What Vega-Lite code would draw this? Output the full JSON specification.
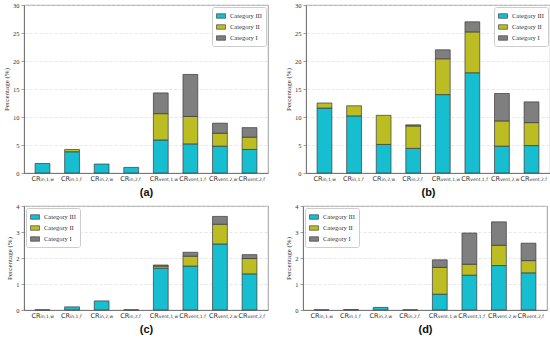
{
  "$schema": "https://vega.github.io/schema/vega-lite/v6.json",
  "padding": {"left": 2, "top": 1, "right": 0, "bottom": 0},
  "background": "white",
  "datasets": {
    "bars": [
      {"p": "a", "cfg": "in,1,w", "cat": "Category III", "v": 1.7},
      {"p": "a", "cfg": "in,1,f", "cat": "Category III", "v": 3.8},
      {"p": "a", "cfg": "in,1,f", "cat": "Category II", "v": 0.4},
      {"p": "a", "cfg": "in,2,w", "cat": "Category III", "v": 1.6},
      {"p": "a", "cfg": "in,2,f", "cat": "Category III", "v": 1.0},
      {"p": "a", "cfg": "vent,1,w", "cat": "Category III", "v": 5.9},
      {"p": "a", "cfg": "vent,1,w", "cat": "Category II", "v": 4.7},
      {"p": "a", "cfg": "vent,1,w", "cat": "Category I", "v": 3.7},
      {"p": "a", "cfg": "vent,1,f", "cat": "Category III", "v": 5.2},
      {"p": "a", "cfg": "vent,1,f", "cat": "Category II", "v": 4.9},
      {"p": "a", "cfg": "vent,1,f", "cat": "Category I", "v": 7.5},
      {"p": "a", "cfg": "vent,2,w", "cat": "Category III", "v": 4.8},
      {"p": "a", "cfg": "vent,2,w", "cat": "Category II", "v": 2.3},
      {"p": "a", "cfg": "vent,2,w", "cat": "Category I", "v": 1.8},
      {"p": "a", "cfg": "vent,2,f", "cat": "Category III", "v": 4.2},
      {"p": "a", "cfg": "vent,2,f", "cat": "Category II", "v": 2.2},
      {"p": "a", "cfg": "vent,2,f", "cat": "Category I", "v": 1.7},

      {"p": "b", "cfg": "in,1,w", "cat": "Category III", "v": 11.6},
      {"p": "b", "cfg": "in,1,w", "cat": "Category II", "v": 0.9},
      {"p": "b", "cfg": "in,1,f", "cat": "Category III", "v": 10.2},
      {"p": "b", "cfg": "in,1,f", "cat": "Category II", "v": 1.8},
      {"p": "b", "cfg": "in,2,w", "cat": "Category III", "v": 5.1},
      {"p": "b", "cfg": "in,2,w", "cat": "Category II", "v": 5.2},
      {"p": "b", "cfg": "in,2,f", "cat": "Category III", "v": 4.4},
      {"p": "b", "cfg": "in,2,f", "cat": "Category II", "v": 4.0},
      {"p": "b", "cfg": "in,2,f", "cat": "Category I", "v": 0.2},
      {"p": "b", "cfg": "vent,1,w", "cat": "Category III", "v": 14.0},
      {"p": "b", "cfg": "vent,1,w", "cat": "Category II", "v": 6.4},
      {"p": "b", "cfg": "vent,1,w", "cat": "Category I", "v": 1.6},
      {"p": "b", "cfg": "vent,1,f", "cat": "Category III", "v": 17.9},
      {"p": "b", "cfg": "vent,1,f", "cat": "Category II", "v": 7.3},
      {"p": "b", "cfg": "vent,1,f", "cat": "Category I", "v": 1.8},
      {"p": "b", "cfg": "vent,2,w", "cat": "Category III", "v": 4.8},
      {"p": "b", "cfg": "vent,2,w", "cat": "Category II", "v": 4.5},
      {"p": "b", "cfg": "vent,2,w", "cat": "Category I", "v": 4.9},
      {"p": "b", "cfg": "vent,2,f", "cat": "Category III", "v": 4.9},
      {"p": "b", "cfg": "vent,2,f", "cat": "Category II", "v": 4.1},
      {"p": "b", "cfg": "vent,2,f", "cat": "Category I", "v": 3.7},

      {"p": "c", "cfg": "in,1,w", "cat": "Category III", "v": 0.01},
      {"p": "c", "cfg": "in,1,f", "cat": "Category III", "v": 0.12},
      {"p": "c", "cfg": "in,2,w", "cat": "Category III", "v": 0.35},
      {"p": "c", "cfg": "in,2,f", "cat": "Category III", "v": 0.01},
      {"p": "c", "cfg": "vent,1,w", "cat": "Category III", "v": 1.61},
      {"p": "c", "cfg": "vent,1,w", "cat": "Category II", "v": 0.08},
      {"p": "c", "cfg": "vent,1,w", "cat": "Category I", "v": 0.04},
      {"p": "c", "cfg": "vent,1,f", "cat": "Category III", "v": 1.69},
      {"p": "c", "cfg": "vent,1,f", "cat": "Category II", "v": 0.38},
      {"p": "c", "cfg": "vent,1,f", "cat": "Category I", "v": 0.15},
      {"p": "c", "cfg": "vent,2,w", "cat": "Category III", "v": 2.54},
      {"p": "c", "cfg": "vent,2,w", "cat": "Category II", "v": 0.76},
      {"p": "c", "cfg": "vent,2,w", "cat": "Category I", "v": 0.3},
      {"p": "c", "cfg": "vent,2,f", "cat": "Category III", "v": 1.39},
      {"p": "c", "cfg": "vent,2,f", "cat": "Category II", "v": 0.59},
      {"p": "c", "cfg": "vent,2,f", "cat": "Category I", "v": 0.15},

      {"p": "d", "cfg": "in,1,w", "cat": "Category III", "v": 0.01},
      {"p": "d", "cfg": "in,1,f", "cat": "Category III", "v": 0.02},
      {"p": "d", "cfg": "in,2,w", "cat": "Category III", "v": 0.1},
      {"p": "d", "cfg": "in,2,f", "cat": "Category III", "v": 0.01},
      {"p": "d", "cfg": "vent,1,w", "cat": "Category III", "v": 0.61},
      {"p": "d", "cfg": "vent,1,w", "cat": "Category II", "v": 1.03},
      {"p": "d", "cfg": "vent,1,w", "cat": "Category I", "v": 0.29},
      {"p": "d", "cfg": "vent,1,f", "cat": "Category III", "v": 1.34},
      {"p": "d", "cfg": "vent,1,f", "cat": "Category II", "v": 0.42},
      {"p": "d", "cfg": "vent,1,f", "cat": "Category I", "v": 1.2},
      {"p": "d", "cfg": "vent,2,w", "cat": "Category III", "v": 1.71},
      {"p": "d", "cfg": "vent,2,w", "cat": "Category II", "v": 0.78},
      {"p": "d", "cfg": "vent,2,w", "cat": "Category I", "v": 0.9},
      {"p": "d", "cfg": "vent,2,f", "cat": "Category III", "v": 1.43},
      {"p": "d", "cfg": "vent,2,f", "cat": "Category II", "v": 0.47},
      {"p": "d", "cfg": "vent,2,f", "cat": "Category I", "v": 0.67}
    ],
    "labels": [
      {"cfg": "in,1,w"}, {"cfg": "in,1,f"}, {"cfg": "in,2,w"}, {"cfg": "in,2,f"},
      {"cfg": "vent,1,w"}, {"cfg": "vent,1,f"}, {"cfg": "vent,2,w"}, {"cfg": "vent,2,f"}
    ]
  },
  "vconcat": [
    {
      "hconcat": [
        {
          "width": 244, "height": 168,
          "layer": [
            {
              "data": {"name": "bars"},
              "transform": [{"filter": "datum.p == 'a'"}],
              "mark": {"type": "bar", "stroke": "#3a3a3a", "strokeWidth": 0.7},
              "encoding": {
                "x": {"field": "cfg", "type": "nominal", "sort": ["in,1,w","in,1,f","in,2,w","in,2,f","vent,1,w","vent,1,f","vent,2,w","vent,2,f"],
                      "scale": {"domain": ["in,1,w","in,1,f","in,2,w","in,2,f","vent,1,w","vent,1,f","vent,2,w","vent,2,f"], "paddingInner": 0.5, "paddingOuter": 0.375},
                      "axis": {"labels": false, "title": "(a)"}},
                "y": {"field": "v", "type": "quantitative", "stack": "zero", "scale": {"domain": [0, 30]},
                      "axis": {"values": [0,5,10,15,20,25,30], "labelOverlap": false, "title": "Percentage (%)"}},
                "color": {"field": "cat", "type": "nominal", "sort": ["Category III","Category II","Category I"],
                          "scale": {"domain": ["Category III","Category II","Category I"], "range": ["#17becf","#bcbd22","#7f7f7f"]},
                          "legend": {"orient": "top-right", "offset": 2, "title": null}}
              }
            },
            {
              "data": {"name": "labels"},
              "mark": {"type": "text", "text": "CR", "align": "right", "baseline": "middle", "dx": -2, "dy": 5.5, "font": "DejaVu Sans", "fontSize": 6.5, "color": "#333"},
              "encoding": {"x": {"field": "cfg", "type": "nominal", "axis": {"labels": false, "title": "(a)"}},
                           "y": {"datum": 0, "type": "quantitative", "axis": {"values": [0,5,10,15,20,25,30], "labelOverlap": false, "title": "Percentage (%)"}}}
            },
            {
              "data": {"name": "labels"},
              "mark": {"type": "text", "align": "left", "baseline": "middle", "dx": -2, "dy": 7, "font": "DejaVu Sans", "fontSize": 4.5, "color": "#333"},
              "encoding": {"x": {"field": "cfg", "type": "nominal", "axis": {"labels": false, "title": "(a)"}},
                           "y": {"datum": 0, "type": "quantitative", "axis": {"values": [0,5,10,15,20,25,30], "labelOverlap": false, "title": "Percentage (%)"}},
                           "text": {"field": "cfg"}}
            }
          ]
        },
        {
          "width": 244, "height": 168,
          "layer": [
            {
              "data": {"name": "bars"},
              "transform": [{"filter": "datum.p == 'b'"}],
              "mark": {"type": "bar", "stroke": "#3a3a3a", "strokeWidth": 0.7},
              "encoding": {
                "x": {"field": "cfg", "type": "nominal", "sort": ["in,1,w","in,1,f","in,2,w","in,2,f","vent,1,w","vent,1,f","vent,2,w","vent,2,f"],
                      "scale": {"domain": ["in,1,w","in,1,f","in,2,w","in,2,f","vent,1,w","vent,1,f","vent,2,w","vent,2,f"], "paddingInner": 0.5, "paddingOuter": 0.375},
                      "axis": {"labels": false, "title": "(b)"}},
                "y": {"field": "v", "type": "quantitative", "stack": "zero", "scale": {"domain": [0, 30]},
                      "axis": {"values": [0,5,10,15,20,25,30], "labelOverlap": false, "title": "Percentage (%)"}},
                "color": {"field": "cat", "type": "nominal", "sort": ["Category III","Category II","Category I"],
                          "scale": {"domain": ["Category III","Category II","Category I"], "range": ["#17becf","#bcbd22","#7f7f7f"]},
                          "legend": {"orient": "top-right", "offset": 2, "title": null}}
              }
            },
            {
              "data": {"name": "labels"},
              "mark": {"type": "text", "text": "CR", "align": "right", "baseline": "middle", "dx": -2, "dy": 5.5, "font": "DejaVu Sans", "fontSize": 6.5, "color": "#333"},
              "encoding": {"x": {"field": "cfg", "type": "nominal", "axis": {"labels": false, "title": "(b)"}},
                           "y": {"datum": 0, "type": "quantitative", "axis": {"values": [0,5,10,15,20,25,30], "labelOverlap": false, "title": "Percentage (%)"}}}
            },
            {
              "data": {"name": "labels"},
              "mark": {"type": "text", "align": "left", "baseline": "middle", "dx": -2, "dy": 7, "font": "DejaVu Sans", "fontSize": 4.5, "color": "#333"},
              "encoding": {"x": {"field": "cfg", "type": "nominal", "axis": {"labels": false, "title": "(b)"}},
                           "y": {"datum": 0, "type": "quantitative", "axis": {"values": [0,5,10,15,20,25,30], "labelOverlap": false, "title": "Percentage (%)"}},
                           "text": {"field": "cfg"}}
            }
          ]
        }
      ],
      "spacing": 15,
      "resolve": {"scale": {"color": "independent"}, "legend": {"color": "independent"}}
    },
    {
      "hconcat": [
        {
          "width": 244, "height": 104,
          "layer": [
            {
              "data": {"name": "bars"},
              "transform": [{"filter": "datum.p == 'c'"}],
              "mark": {"type": "bar", "stroke": "#3a3a3a", "strokeWidth": 0.7},
              "encoding": {
                "x": {"field": "cfg", "type": "nominal", "sort": ["in,1,w","in,1,f","in,2,w","in,2,f","vent,1,w","vent,1,f","vent,2,w","vent,2,f"],
                      "scale": {"domain": ["in,1,w","in,1,f","in,2,w","in,2,f","vent,1,w","vent,1,f","vent,2,w","vent,2,f"], "paddingInner": 0.5, "paddingOuter": 0.375},
                      "axis": {"labels": false, "title": "(c)"}},
                "y": {"field": "v", "type": "quantitative", "stack": "zero", "scale": {"domain": [0, 4]},
                      "axis": {"values": [0,1,2,3,4], "labelOverlap": false, "title": "Percentage (%)"}},
                "color": {"field": "cat", "type": "nominal", "sort": ["Category III","Category II","Category I"],
                          "scale": {"domain": ["Category III","Category II","Category I"], "range": ["#17becf","#bcbd22","#7f7f7f"]},
                          "legend": {"orient": "top-left", "offset": 2, "title": null}}
              }
            },
            {
              "data": {"name": "labels"},
              "mark": {"type": "text", "text": "CR", "align": "right", "baseline": "middle", "dx": -2, "dy": 5.5, "font": "DejaVu Sans", "fontSize": 6.5, "color": "#333"},
              "encoding": {"x": {"field": "cfg", "type": "nominal", "axis": {"labels": false, "title": "(c)"}},
                           "y": {"datum": 0, "type": "quantitative", "axis": {"values": [0,1,2,3,4], "labelOverlap": false, "title": "Percentage (%)"}}}
            },
            {
              "data": {"name": "labels"},
              "mark": {"type": "text", "align": "left", "baseline": "middle", "dx": -2, "dy": 7, "font": "DejaVu Sans", "fontSize": 4.5, "color": "#333"},
              "encoding": {"x": {"field": "cfg", "type": "nominal", "axis": {"labels": false, "title": "(c)"}},
                           "y": {"datum": 0, "type": "quantitative", "axis": {"values": [0,1,2,3,4], "labelOverlap": false, "title": "Percentage (%)"}},
                           "text": {"field": "cfg"}}
            }
          ]
        },
        {
          "width": 244, "height": 104,
          "layer": [
            {
              "data": {"name": "bars"},
              "transform": [{"filter": "datum.p == 'd'"}],
              "mark": {"type": "bar", "stroke": "#3a3a3a", "strokeWidth": 0.7},
              "encoding": {
                "x": {"field": "cfg", "type": "nominal", "sort": ["in,1,w","in,1,f","in,2,w","in,2,f","vent,1,w","vent,1,f","vent,2,w","vent,2,f"],
                      "scale": {"domain": ["in,1,w","in,1,f","in,2,w","in,2,f","vent,1,w","vent,1,f","vent,2,w","vent,2,f"], "paddingInner": 0.5, "paddingOuter": 0.375},
                      "axis": {"labels": false, "title": "(d)"}},
                "y": {"field": "v", "type": "quantitative", "stack": "zero", "scale": {"domain": [0, 4]},
                      "axis": {"values": [0,1,2,3,4], "labelOverlap": false, "title": "Percentage (%)"}},
                "color": {"field": "cat", "type": "nominal", "sort": ["Category III","Category II","Category I"],
                          "scale": {"domain": ["Category III","Category II","Category I"], "range": ["#17becf","#bcbd22","#7f7f7f"]},
                          "legend": {"orient": "top-left", "offset": 2, "title": null}}
              }
            },
            {
              "data": {"name": "labels"},
              "mark": {"type": "text", "text": "CR", "align": "right", "baseline": "middle", "dx": -2, "dy": 5.5, "font": "DejaVu Sans", "fontSize": 6.5, "color": "#333"},
              "encoding": {"x": {"field": "cfg", "type": "nominal", "axis": {"labels": false, "title": "(d)"}},
                           "y": {"datum": 0, "type": "quantitative", "axis": {"values": [0,1,2,3,4], "labelOverlap": false, "title": "Percentage (%)"}}}
            },
            {
              "data": {"name": "labels"},
              "mark": {"type": "text", "align": "left", "baseline": "middle", "dx": -2, "dy": 7, "font": "DejaVu Sans", "fontSize": 4.5, "color": "#333"},
              "encoding": {"x": {"field": "cfg", "type": "nominal", "axis": {"labels": false, "title": "(d)"}},
                           "y": {"datum": 0, "type": "quantitative", "axis": {"values": [0,1,2,3,4], "labelOverlap": false, "title": "Percentage (%)"}},
                           "text": {"field": "cfg"}}
            }
          ]
        }
      ],
      "spacing": 15,
      "resolve": {"scale": {"color": "independent"}, "legend": {"color": "independent"}}
    }
  ],
  "spacing": 4,
  "resolve": {"scale": {"color": "independent"}, "legend": {"color": "independent"}},
  "config": {
    "view": {"stroke": "#888", "strokeWidth": 0.8},
    "axis": {
      "labelFont": "Liberation Serif", "labelFontSize": 6.5, "labelColor": "#333",
      "titleFont": "Liberation Serif", "titleFontSize": 7, "titleFontWeight": "normal", "titleColor": "#333",
      "domainColor": "#666", "domainWidth": 0.8, "tickColor": "#666", "tickSize": 3, "tickWidth": 0.6,
      "labelPadding": 2, "titlePadding": 3
    },
    "axisY": {"grid": true, "gridColor": "#d8d8d8", "gridDash": [3, 2], "gridWidth": 0.6},
    "axisX": {"grid": false, "ticks": false, "titleFont": "Liberation Sans", "titleFontSize": 11, "titleFontWeight": "bold", "titleColor": "#111", "titlePadding": 13},
    "legend": {
      "labelFont": "Liberation Serif", "labelFontSize": 6.5, "labelColor": "#333",
      "symbolType": "M-1,-0.5H1V0.5H-1Z", "symbolSize": 81, "symbolStrokeColor": "#333", "symbolStrokeWidth": 0.6, "symbolOpacity": 1,
      "fillColor": "white", "strokeColor": "#ccc", "cornerRadius": 2, "padding": 4, "rowPadding": 2, "labelOffset": 4
    }
  }
}
